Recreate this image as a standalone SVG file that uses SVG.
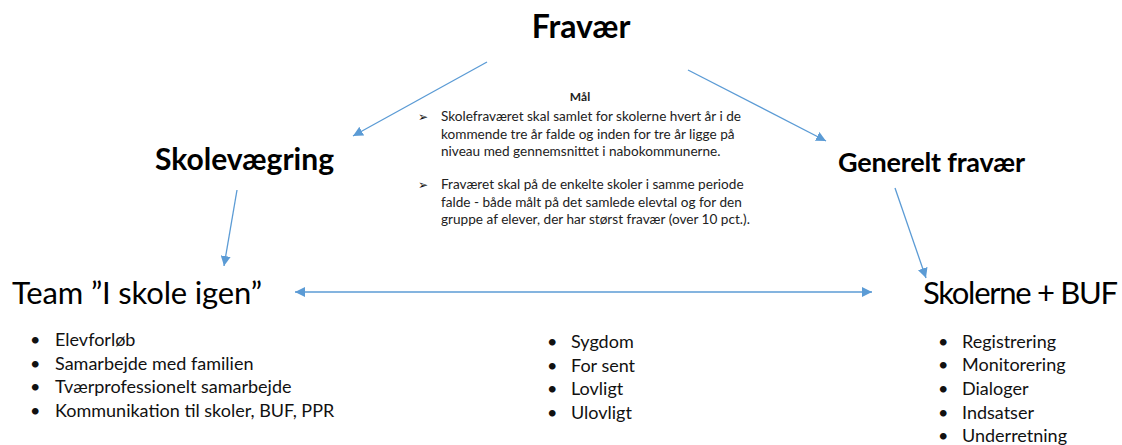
<svg xmlns="http://www.w3.org/2000/svg" width="1122" height="445" viewBox="0 0 1122 445">
<style>
text{font-family:Lato,"Open Sans","Liberation Sans",sans-serif;fill:#000}
.h{font-weight:bold;font-size:27px}
.big{font-size:31px}
.goal{font-size:13.6px;fill:#222}
.mk{font-family:"DejaVu Sans",sans-serif;font-size:12px;font-weight:bold;fill:#111}
.li{font-size:18px;fill:#111}
.conn{stroke:#5b9bd5;stroke-width:1.3;fill:none}
</style>
<defs>
<marker id="ah" viewBox="0 0 10 10" refX="10" refY="5" markerWidth="10" markerHeight="10" markerUnits="userSpaceOnUse" orient="auto-start-reverse">
<path d="M0,0 L10,5 L0,10 z" fill="#5b9bd5"/>
</marker>
</defs>
<rect width="1122" height="445" fill="#fff"/>
<g id="connectors">
<line class="conn" x1="487" y1="62" x2="353" y2="136" marker-end="url(#ah)"/>
<line class="conn" x1="688" y1="70" x2="826" y2="141" marker-end="url(#ah)"/>
<line class="conn" x1="237" y1="190" x2="224" y2="266" marker-end="url(#ah)"/>
<line class="conn" x1="895" y1="188" x2="926" y2="278" marker-end="url(#ah)"/>
<line class="conn" x1="295" y1="292" x2="872" y2="292" marker-start="url(#ah)" marker-end="url(#ah)"/>
</g>
<g id="fravaer"><text class="h" x="581" y="38" text-anchor="middle" style="font-size:32px">Fravær</text></g>
<g id="skolevaegring"><text class="h" x="155" y="170" style="font-size:30px">Skolevægring</text></g>
<g id="generelt"><text class="h" x="838" y="172" textLength="187">Generelt fravær</text></g>
<g id="maal">
<text class="goal" x="580" y="101" text-anchor="middle" font-weight="bold" style="font-size:12px">Mål</text>
<text class="mk" x="418" y="121">➢</text>
<text class="goal" x="441" y="121">Skolefraværet skal samlet for skolerne hvert år i de</text>
<text class="goal" x="441" y="139">kommende tre år falde og inden for tre år ligge på</text>
<text class="goal" x="441" y="156">niveau med gennemsnittet i nabokommunerne.</text>
<text class="mk" x="418" y="189">➢</text>
<text class="goal" x="441" y="189">Fraværet skal på de enkelte skoler i samme periode</text>
<text class="goal" x="441" y="207">falde - både målt på det samlede elevtal og for den</text>
<text class="goal" x="441" y="224">gruppe af elever, der har størst fravær (over 10 pct.).</text>
</g>
<g id="team">
<text class="big" x="12" y="304" textLength="250">Team ”I skole igen”</text>
<text class="li" x="30" y="346">•</text><text class="li" x="55" y="346">Elevforløb</text>
<text class="li" x="30" y="370">•</text><text class="li" x="55" y="370">Samarbejde med familien</text>
<text class="li" x="30" y="393">•</text><text class="li" x="55" y="393">Tværprofessionelt samarbejde</text>
<text class="li" x="30" y="417">•</text><text class="li" x="55" y="417">Kommunikation til skoler, BUF, PPR</text>
</g>
<g id="typer">
<text class="li" x="547" y="348">•</text><text class="li" x="571" y="348">Sygdom</text>
<text class="li" x="547" y="372">•</text><text class="li" x="571" y="372">For sent</text>
<text class="li" x="547" y="395">•</text><text class="li" x="571" y="395">Lovligt</text>
<text class="li" x="547" y="419">•</text><text class="li" x="571" y="419">Ulovligt</text>
</g>
<g id="skolerne">
<text class="big" x="923" y="304" textLength="195">Skolerne + BUF</text>
<text class="li" x="938" y="348">•</text><text class="li" x="962" y="348">Registrering</text>
<text class="li" x="938" y="371">•</text><text class="li" x="962" y="371">Monitorering</text>
<text class="li" x="938" y="395">•</text><text class="li" x="962" y="395">Dialoger</text>
<text class="li" x="938" y="419">•</text><text class="li" x="962" y="419">Indsatser</text>
<text class="li" x="938" y="442">•</text><text class="li" x="962" y="442">Underretning</text>
</g>
</svg>
